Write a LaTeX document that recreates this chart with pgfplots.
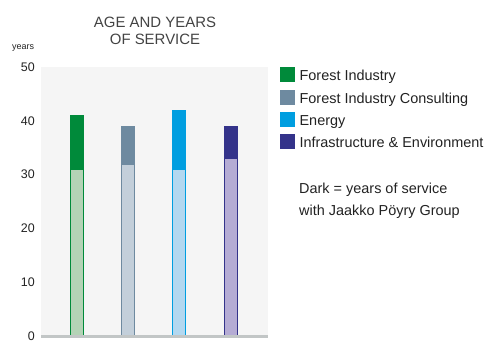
\documentclass[border=0pt]{standalone}
\usepackage{fontspec}
\setmainfont{Liberation Sans}
\usepackage{pgfplots}
\pgfplotsset{compat=1.18}
\definecolor{fiD}{HTML}{008A3A}
\definecolor{fiL}{HTML}{B4D3B6}
\definecolor{fcD}{HTML}{6E8AA0}
\definecolor{fcL}{HTML}{C3CFDA}
\definecolor{enD}{HTML}{009EE0}
\definecolor{enL}{HTML}{B3D8F0}
\definecolor{ieD}{HTML}{34338A}
\definecolor{ieL}{HTML}{B5ACD4}
\definecolor{bg}{HTML}{F5F5F5}
\definecolor{baseclr}{HTML}{C2C6C6}
\definecolor{txt}{HTML}{222222}
\begin{document}
\begin{tikzpicture}[x=1bp,y=1bp]
\path[use as bounding box] (0,0) rectangle (486,340);
\begin{axis}[
  at={(41bp,4bp)}, anchor=south west,
  scale only axis, width=227bp, height=269bp,
  xmin=-0.692, xmax=3.731, ymin=0, ymax=50,
  axis line style={draw=none},
  axis background/.style={fill=bg},
  xtick=\empty,
  ytick={0,10,...,50},
  major tick length=0pt,
  /pgf/number format/assume math mode=true,
  yticklabel style={font=\fontsize{12.5}{14}\selectfont, text=txt, inner sep=0pt, xshift=-6bp},
  clip=false,
  legend cell align=left,
  legend style={draw=none, fill=none, at={(1.0396,1.0074)}, anchor=north west,
    font=\fontsize{14.5}{16}\selectfont, text=txt, row sep=3.6bp,
    nodes={text height=11bp, text depth=3bp, inner sep=2bp},
    /tikz/every odd column/.append style={column sep=3bp}},
  ybar, bar width=13bp, bar shift=0pt,
  legend image code/.code={\fill[#1] (0bp,-4.5bp) rectangle (14bp,9.5bp);},
]
\addplot[fill=fiD, draw=fiD] coordinates {(0,41)};
\addlegendentry{Forest Industry}
\addplot[fill=fiL, draw=fiD, forget plot] coordinates {(0,31)};
\addplot[fill=fcD, draw=fcD] coordinates {(1,39)};
\addlegendentry{Forest Industry Consulting}
\addplot[fill=fcL, draw=fcD, forget plot] coordinates {(1,32)};
\addplot[fill=enD, draw=enD] coordinates {(2,42)};
\addlegendentry{Energy}
\addplot[fill=enL, draw=enD, forget plot] coordinates {(2,31)};
\addplot[fill=ieD, draw=ieD] coordinates {(3,39)};
\addlegendentry{Infrastructure \& Environment}
\addplot[fill=ieL, draw=ieD, forget plot] coordinates {(3,33)};
\draw[draw=baseclr, line width=3bp] (rel axis cs:0,0) -- (rel axis cs:1,0);
\end{axis}
\node[anchor=base, text=txt!85, font=\fontsize{15}{17}\selectfont] at (155,313) {AGE AND YEARS};
\node[anchor=base, text=txt!85, font=\fontsize{15}{17}\selectfont] at (155,295.5) {OF SERVICE};
\node[anchor=base west, inner sep=0pt, text=txt, font=\fontsize{9}{10}\selectfont] at (12,290.5) {years};
\node[anchor=base west, inner sep=0pt, text=txt, font=\fontsize{14.5}{16}\selectfont] at (299,147) {Dark = years of service};
\node[anchor=base west, inner sep=0pt, text=txt, font=\fontsize{14.5}{16}\selectfont] at (299,125) {with Jaakko Pöyry Group};
\end{tikzpicture}
\end{document}
